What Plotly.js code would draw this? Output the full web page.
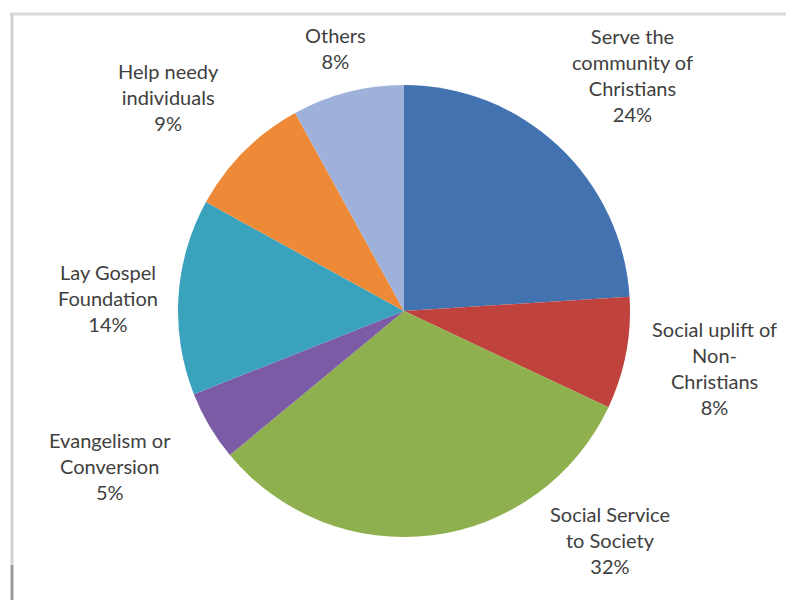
<!DOCTYPE html>
<html>
<head>
<meta charset="utf-8">
<script src="https://cdn.plot.ly/plotly-3.0.1.min.js"></script>
<style>html,body{margin:0;padding:0;background:#fff;}#chart{width:786px;height:600px;}</style>
</head>
<body>
<div id="chart"></div>
<script>
var categories = ["Serve the<br>community of<br>Christians", "Social uplift of<br>Non-<br>Christians", "Social Service<br>to Society", "Evangelism or<br>Conversion", "Lay Gospel<br>Foundation", "Help needy<br>individuals", "Others"];
var values = [24, 8, 32, 5, 14, 9, 8];
var colors = ["#4372B0", "#C0423D", "#8FB04E", "#7B5AA6", "#3BA2BD", "#EE8A37", "#9DB1DB"];
// label anchor points (pixels) for each slice label
var labelX = [632, 714, 610, 110, 108, 168, 335];
var labelY = [75, 368, 540, 466, 298, 97, 48];

var W = 786, H = 600;
var total = values.reduce(function(a, b) { return a + b; }, 0);
var annotations = categories.map(function(c, i) {
  return {
    text: c + "<br>" + Math.round(values[i] / total * 100) + "%",
    x: labelX[i] / W, y: 1 - labelY[i] / H,
    xref: "paper", yref: "paper",
    xanchor: "center", yanchor: "middle",
    showarrow: false, align: "center",
    font: {family: "Lato, 'Liberation Sans', sans-serif", size: 20, color: "#404040"}
  };
});

var cx = 404, cy = 311, r = 226;
var trace = {
  type: "pie",
  labels: categories,
  values: values,
  sort: false,
  direction: "clockwise",
  rotation: 0,
  marker: {colors: colors, line: {width: 0}},
  textinfo: "none",
  hoverinfo: "label+percent",
  showlegend: false,
  domain: {x: [(cx - r) / W, (cx + r) / W], y: [(H - cy - r) / H, (H - cy + r) / H]}
};

var layout = {
  width: W, height: H,
  margin: {l: 0, r: 0, t: 0, b: 0},
  paper_bgcolor: "#ffffff",
  showlegend: false,
  annotations: annotations,
  shapes: [
    {type: "line", xref: "paper", yref: "paper", x0: 10 / W, x1: 1, y0: 1 - 14 / H, y1: 1 - 14 / H, line: {color: "#dadada", width: 3}},
    {type: "line", xref: "paper", yref: "paper", x0: 12 / W, x1: 12 / W, y0: 1 - 14 / H, y1: 1 - 565 / H, line: {color: "#d2d2d2", width: 3}},
    {type: "line", xref: "paper", yref: "paper", x0: 12 / W, x1: 12 / W, y0: 1 - 565 / H, y1: 0, line: {color: "#9a9a9a", width: 3}}
  ]
};

Plotly.newPlot("chart", [trace], layout, {staticPlot: true, displayModeBar: false});
</script>
</body>
</html>
